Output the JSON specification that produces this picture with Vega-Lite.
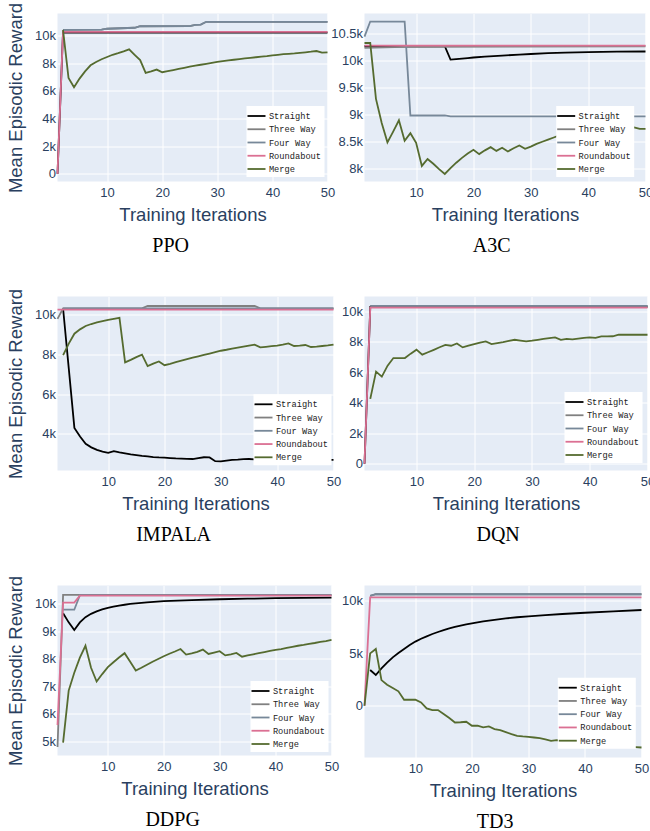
{
  "$schema": "https://vega.github.io/schema/vega-lite/v6.json",
  "padding": {"left": 6.5, "top": 1.5, "right": 0, "bottom": 0},
  "autosize": {"type": "pad"},
  "background": "white",
  "config": {
    "view": {"fill": "#E5ECF6", "stroke": null},
    "axis": {"domain": false, "ticks": false, "grid": true, "gridColor": "#ffffff", "gridWidth": 1, "labelFont": "Liberation Sans", "labelFontSize": 13, "labelColor": "#2a3f5f", "titleFont": "Liberation Sans", "titleFontSize": 18.5, "titleFontWeight": "normal", "titleColor": "#2a3f5f"},
    "axisX": {"labelPadding": 4.5, "titlePadding": 6, "labelFlush": false},
    "axisY": {"labelPadding": 2, "titlePadding": 9, "labelExpr": "datum.value == 0 ? '0' : datum.label"},
    "legend": {"orient": "none", "symbolType": "M-1.5,0H1.5", "symbolSize": 144, "symbolStrokeWidth": 2, "labelFont": "Liberation Mono", "labelFontSize": 8.7, "labelColor": "#222222", "fillColor": "#ffffff", "padding": 3, "rowPadding": 1.25, "labelOffset": 5.4},
    "title": {"font": "Liberation Serif", "fontSize": 20, "fontWeight": "normal", "color": "#000000", "orient": "bottom", "frame": "bounds", "anchor": "middle", "offset": 12.5},
    "line": {"strokeWidth": 1.8, "clip": true}
  },
  "datasets": {
    "ppo": [
      {"s": "Straight", "x": 1, "y": 0}, {"s": "Straight", "x": 2, "y": 10200}, {"s": "Straight", "x": 50, "y": 10200},
      {"s": "Three Way", "x": 2, "y": 10400}, {"s": "Three Way", "x": 9, "y": 10420}, {"s": "Three Way", "x": 10, "y": 10480}, {"s": "Three Way", "x": 15, "y": 10550}, {"s": "Three Way", "x": 16, "y": 10660}, {"s": "Three Way", "x": 25, "y": 10670}, {"s": "Three Way", "x": 26, "y": 10760}, {"s": "Three Way", "x": 27, "y": 10780}, {"s": "Three Way", "x": 28, "y": 10980}, {"s": "Three Way", "x": 50, "y": 10980},
      {"s": "Four Way", "x": 2, "y": 10400}, {"s": "Four Way", "x": 9, "y": 10420}, {"s": "Four Way", "x": 10, "y": 10480}, {"s": "Four Way", "x": 15, "y": 10550}, {"s": "Four Way", "x": 16, "y": 10660}, {"s": "Four Way", "x": 25, "y": 10670}, {"s": "Four Way", "x": 26, "y": 10760}, {"s": "Four Way", "x": 27, "y": 10780}, {"s": "Four Way", "x": 28, "y": 10980}, {"s": "Four Way", "x": 50, "y": 10980},
      {"s": "Roundabout", "x": 1, "y": 0}, {"s": "Roundabout", "x": 2, "y": 10250}, {"s": "Roundabout", "x": 50, "y": 10250},
      {"s": "Merge", "x": 2, "y": 10400}, {"s": "Merge", "x": 3, "y": 6930}, {"s": "Merge", "x": 4, "y": 6250}, {"s": "Merge", "x": 5, "y": 6880}, {"s": "Merge", "x": 6, "y": 7400}, {"s": "Merge", "x": 7, "y": 7840}, {"s": "Merge", "x": 8, "y": 8080}, {"s": "Merge", "x": 9, "y": 8280}, {"s": "Merge", "x": 10, "y": 8440}, {"s": "Merge", "x": 11, "y": 8600}, {"s": "Merge", "x": 12, "y": 8720}, {"s": "Merge", "x": 13, "y": 8850}, {"s": "Merge", "x": 14, "y": 8990}, {"s": "Merge", "x": 15, "y": 8600}, {"s": "Merge", "x": 16, "y": 8220}, {"s": "Merge", "x": 17, "y": 7290}, {"s": "Merge", "x": 18, "y": 7400}, {"s": "Merge", "x": 19, "y": 7530}, {"s": "Merge", "x": 20, "y": 7340}, {"s": "Merge", "x": 21, "y": 7420}, {"s": "Merge", "x": 22, "y": 7500}, {"s": "Merge", "x": 23, "y": 7580}, {"s": "Merge", "x": 24, "y": 7660}, {"s": "Merge", "x": 25, "y": 7740}, {"s": "Merge", "x": 26, "y": 7810}, {"s": "Merge", "x": 27, "y": 7880}, {"s": "Merge", "x": 28, "y": 7950}, {"s": "Merge", "x": 29, "y": 8020}, {"s": "Merge", "x": 30, "y": 8080}, {"s": "Merge", "x": 31, "y": 8140}, {"s": "Merge", "x": 32, "y": 8190}, {"s": "Merge", "x": 33, "y": 8240}, {"s": "Merge", "x": 34, "y": 8290}, {"s": "Merge", "x": 35, "y": 8340}, {"s": "Merge", "x": 36, "y": 8380}, {"s": "Merge", "x": 37, "y": 8420}, {"s": "Merge", "x": 38, "y": 8460}, {"s": "Merge", "x": 39, "y": 8500}, {"s": "Merge", "x": 40, "y": 8560}, {"s": "Merge", "x": 41, "y": 8600}, {"s": "Merge", "x": 42, "y": 8640}, {"s": "Merge", "x": 43, "y": 8670}, {"s": "Merge", "x": 44, "y": 8700}, {"s": "Merge", "x": 45, "y": 8740}, {"s": "Merge", "x": 46, "y": 8780}, {"s": "Merge", "x": 47, "y": 8820}, {"s": "Merge", "x": 48, "y": 8870}, {"s": "Merge", "x": 49, "y": 8750}, {"s": "Merge", "x": 50, "y": 8780}
    ],
    "a3c": [
      {"s": "Straight", "x": 1, "y": 10270}, {"s": "Straight", "x": 15, "y": 10270}, {"s": "Straight", "x": 16, "y": 10020}, {"s": "Straight", "x": 17, "y": 10030}, {"s": "Straight", "x": 18, "y": 10040}, {"s": "Straight", "x": 19, "y": 10050}, {"s": "Straight", "x": 20, "y": 10060}, {"s": "Straight", "x": 22, "y": 10075}, {"s": "Straight", "x": 25, "y": 10095}, {"s": "Straight", "x": 28, "y": 10115}, {"s": "Straight", "x": 30, "y": 10125}, {"s": "Straight", "x": 33, "y": 10140}, {"s": "Straight", "x": 36, "y": 10150}, {"s": "Straight", "x": 40, "y": 10160}, {"s": "Straight", "x": 45, "y": 10168}, {"s": "Straight", "x": 50, "y": 10172},
      {"s": "Three Way", "x": 1, "y": 10240}, {"s": "Three Way", "x": 8, "y": 10260}, {"s": "Three Way", "x": 50, "y": 10270},
      {"s": "Four Way", "x": 1, "y": 10450}, {"s": "Four Way", "x": 2, "y": 10730}, {"s": "Four Way", "x": 8, "y": 10730}, {"s": "Four Way", "x": 9, "y": 8980}, {"s": "Four Way", "x": 15, "y": 8980}, {"s": "Four Way", "x": 16, "y": 8965}, {"s": "Four Way", "x": 50, "y": 8965},
      {"s": "Roundabout", "x": 1, "y": 10280}, {"s": "Roundabout", "x": 50, "y": 10280},
      {"s": "Merge", "x": 1, "y": 10330}, {"s": "Merge", "x": 2, "y": 10330}, {"s": "Merge", "x": 3, "y": 9290}, {"s": "Merge", "x": 4, "y": 8840}, {"s": "Merge", "x": 5, "y": 8480}, {"s": "Merge", "x": 6, "y": 8680}, {"s": "Merge", "x": 7, "y": 8890}, {"s": "Merge", "x": 8, "y": 8510}, {"s": "Merge", "x": 9, "y": 8650}, {"s": "Merge", "x": 10, "y": 8470}, {"s": "Merge", "x": 11, "y": 8040}, {"s": "Merge", "x": 12, "y": 8170}, {"s": "Merge", "x": 13, "y": 8080}, {"s": "Merge", "x": 14, "y": 7980}, {"s": "Merge", "x": 15, "y": 7890}, {"s": "Merge", "x": 16, "y": 8000}, {"s": "Merge", "x": 17, "y": 8100}, {"s": "Merge", "x": 18, "y": 8190}, {"s": "Merge", "x": 19, "y": 8270}, {"s": "Merge", "x": 20, "y": 8340}, {"s": "Merge", "x": 21, "y": 8260}, {"s": "Merge", "x": 22, "y": 8330}, {"s": "Merge", "x": 23, "y": 8390}, {"s": "Merge", "x": 24, "y": 8320}, {"s": "Merge", "x": 25, "y": 8380}, {"s": "Merge", "x": 26, "y": 8310}, {"s": "Merge", "x": 27, "y": 8370}, {"s": "Merge", "x": 28, "y": 8420}, {"s": "Merge", "x": 29, "y": 8360}, {"s": "Merge", "x": 30, "y": 8400}, {"s": "Merge", "x": 31, "y": 8450}, {"s": "Merge", "x": 32, "y": 8490}, {"s": "Merge", "x": 33, "y": 8530}, {"s": "Merge", "x": 34, "y": 8570}, {"s": "Merge", "x": 35, "y": 8610}, {"s": "Merge", "x": 36, "y": 8640}, {"s": "Merge", "x": 37, "y": 8660}, {"s": "Merge", "x": 38, "y": 8680}, {"s": "Merge", "x": 39, "y": 8690}, {"s": "Merge", "x": 40, "y": 8700}, {"s": "Merge", "x": 41, "y": 8710}, {"s": "Merge", "x": 42, "y": 8720}, {"s": "Merge", "x": 43, "y": 8730}, {"s": "Merge", "x": 44, "y": 8740}, {"s": "Merge", "x": 45, "y": 8745}, {"s": "Merge", "x": 46, "y": 8750}, {"s": "Merge", "x": 47, "y": 8755}, {"s": "Merge", "x": 48, "y": 8760}, {"s": "Merge", "x": 49, "y": 8730}, {"s": "Merge", "x": 50, "y": 8730}
    ],
    "impala": [
      {"s": "Straight", "x": 2, "y": 10300}, {"s": "Straight", "x": 3, "y": 7300}, {"s": "Straight", "x": 4, "y": 4290}, {"s": "Straight", "x": 5, "y": 3860}, {"s": "Straight", "x": 6, "y": 3490}, {"s": "Straight", "x": 7, "y": 3310}, {"s": "Straight", "x": 8, "y": 3180}, {"s": "Straight", "x": 9, "y": 3090}, {"s": "Straight", "x": 10, "y": 3030}, {"s": "Straight", "x": 11, "y": 3120}, {"s": "Straight", "x": 12, "y": 3060}, {"s": "Straight", "x": 13, "y": 3010}, {"s": "Straight", "x": 14, "y": 2960}, {"s": "Straight", "x": 15, "y": 2920}, {"s": "Straight", "x": 16, "y": 2880}, {"s": "Straight", "x": 17, "y": 2850}, {"s": "Straight", "x": 18, "y": 2820}, {"s": "Straight", "x": 19, "y": 2800}, {"s": "Straight", "x": 20, "y": 2790}, {"s": "Straight", "x": 21, "y": 2770}, {"s": "Straight", "x": 22, "y": 2750}, {"s": "Straight", "x": 23, "y": 2740}, {"s": "Straight", "x": 24, "y": 2730}, {"s": "Straight", "x": 25, "y": 2720}, {"s": "Straight", "x": 26, "y": 2770}, {"s": "Straight", "x": 27, "y": 2810}, {"s": "Straight", "x": 28, "y": 2800}, {"s": "Straight", "x": 29, "y": 2610}, {"s": "Straight", "x": 30, "y": 2600}, {"s": "Straight", "x": 31, "y": 2640}, {"s": "Straight", "x": 32, "y": 2680}, {"s": "Straight", "x": 33, "y": 2690}, {"s": "Straight", "x": 34, "y": 2710}, {"s": "Straight", "x": 35, "y": 2720}, {"s": "Straight", "x": 36, "y": 2700}, {"s": "Straight", "x": 40, "y": 2700}, {"s": "Straight", "x": 45, "y": 2690}, {"s": "Straight", "x": 50, "y": 2680},
      {"s": "Three Way", "x": 1, "y": 9800}, {"s": "Three Way", "x": 2, "y": 10330}, {"s": "Three Way", "x": 16, "y": 10330}, {"s": "Three Way", "x": 17, "y": 10450}, {"s": "Three Way", "x": 36, "y": 10450}, {"s": "Three Way", "x": 37, "y": 10330}, {"s": "Three Way", "x": 50, "y": 10330},
      {"s": "Four Way", "x": 2, "y": 10330}, {"s": "Four Way", "x": 50, "y": 10330},
      {"s": "Roundabout", "x": 1, "y": 10270}, {"s": "Roundabout", "x": 50, "y": 10270},
      {"s": "Merge", "x": 2, "y": 7970}, {"s": "Merge", "x": 3, "y": 8550}, {"s": "Merge", "x": 4, "y": 9050}, {"s": "Merge", "x": 5, "y": 9270}, {"s": "Merge", "x": 6, "y": 9440}, {"s": "Merge", "x": 7, "y": 9540}, {"s": "Merge", "x": 8, "y": 9620}, {"s": "Merge", "x": 9, "y": 9690}, {"s": "Merge", "x": 10, "y": 9750}, {"s": "Merge", "x": 11, "y": 9800}, {"s": "Merge", "x": 12, "y": 9850}, {"s": "Merge", "x": 13, "y": 7600}, {"s": "Merge", "x": 14, "y": 7730}, {"s": "Merge", "x": 15, "y": 7870}, {"s": "Merge", "x": 16, "y": 7990}, {"s": "Merge", "x": 17, "y": 7410}, {"s": "Merge", "x": 18, "y": 7540}, {"s": "Merge", "x": 19, "y": 7650}, {"s": "Merge", "x": 20, "y": 7460}, {"s": "Merge", "x": 21, "y": 7530}, {"s": "Merge", "x": 22, "y": 7610}, {"s": "Merge", "x": 23, "y": 7690}, {"s": "Merge", "x": 24, "y": 7770}, {"s": "Merge", "x": 25, "y": 7840}, {"s": "Merge", "x": 26, "y": 7910}, {"s": "Merge", "x": 27, "y": 7980}, {"s": "Merge", "x": 28, "y": 8050}, {"s": "Merge", "x": 29, "y": 8120}, {"s": "Merge", "x": 30, "y": 8190}, {"s": "Merge", "x": 31, "y": 8240}, {"s": "Merge", "x": 32, "y": 8300}, {"s": "Merge", "x": 33, "y": 8350}, {"s": "Merge", "x": 34, "y": 8400}, {"s": "Merge", "x": 35, "y": 8450}, {"s": "Merge", "x": 36, "y": 8500}, {"s": "Merge", "x": 37, "y": 8360}, {"s": "Merge", "x": 38, "y": 8390}, {"s": "Merge", "x": 39, "y": 8420}, {"s": "Merge", "x": 40, "y": 8450}, {"s": "Merge", "x": 41, "y": 8500}, {"s": "Merge", "x": 42, "y": 8560}, {"s": "Merge", "x": 43, "y": 8430}, {"s": "Merge", "x": 44, "y": 8450}, {"s": "Merge", "x": 45, "y": 8480}, {"s": "Merge", "x": 46, "y": 8380}, {"s": "Merge", "x": 47, "y": 8400}, {"s": "Merge", "x": 48, "y": 8430}, {"s": "Merge", "x": 49, "y": 8460}, {"s": "Merge", "x": 50, "y": 8500}
    ],
    "dqn": [
      {"s": "Straight", "x": 1, "y": 0}, {"s": "Straight", "x": 2, "y": 10300}, {"s": "Straight", "x": 50, "y": 10300},
      {"s": "Three Way", "x": 2, "y": 10370}, {"s": "Three Way", "x": 50, "y": 10370},
      {"s": "Four Way", "x": 2, "y": 10370}, {"s": "Four Way", "x": 50, "y": 10370},
      {"s": "Roundabout", "x": 1, "y": 0}, {"s": "Roundabout", "x": 2, "y": 10250}, {"s": "Roundabout", "x": 50, "y": 10250},
      {"s": "Merge", "x": 2, "y": 4260}, {"s": "Merge", "x": 3, "y": 6050}, {"s": "Merge", "x": 4, "y": 5720}, {"s": "Merge", "x": 5, "y": 6440}, {"s": "Merge", "x": 6, "y": 6940}, {"s": "Merge", "x": 7, "y": 6940}, {"s": "Merge", "x": 8, "y": 6940}, {"s": "Merge", "x": 9, "y": 7230}, {"s": "Merge", "x": 10, "y": 7490}, {"s": "Merge", "x": 11, "y": 7160}, {"s": "Merge", "x": 12, "y": 7320}, {"s": "Merge", "x": 13, "y": 7480}, {"s": "Merge", "x": 14, "y": 7650}, {"s": "Merge", "x": 15, "y": 7800}, {"s": "Merge", "x": 16, "y": 7750}, {"s": "Merge", "x": 17, "y": 7900}, {"s": "Merge", "x": 18, "y": 7640}, {"s": "Merge", "x": 19, "y": 7750}, {"s": "Merge", "x": 20, "y": 7850}, {"s": "Merge", "x": 21, "y": 7950}, {"s": "Merge", "x": 22, "y": 8030}, {"s": "Merge", "x": 23, "y": 7860}, {"s": "Merge", "x": 24, "y": 7920}, {"s": "Merge", "x": 25, "y": 7980}, {"s": "Merge", "x": 26, "y": 8060}, {"s": "Merge", "x": 27, "y": 8140}, {"s": "Merge", "x": 28, "y": 8090}, {"s": "Merge", "x": 29, "y": 8030}, {"s": "Merge", "x": 30, "y": 8080}, {"s": "Merge", "x": 31, "y": 8140}, {"s": "Merge", "x": 32, "y": 8200}, {"s": "Merge", "x": 33, "y": 8250}, {"s": "Merge", "x": 34, "y": 8300}, {"s": "Merge", "x": 35, "y": 8140}, {"s": "Merge", "x": 36, "y": 8200}, {"s": "Merge", "x": 37, "y": 8170}, {"s": "Merge", "x": 38, "y": 8220}, {"s": "Merge", "x": 39, "y": 8270}, {"s": "Merge", "x": 40, "y": 8300}, {"s": "Merge", "x": 41, "y": 8260}, {"s": "Merge", "x": 42, "y": 8360}, {"s": "Merge", "x": 43, "y": 8360}, {"s": "Merge", "x": 44, "y": 8370}, {"s": "Merge", "x": 45, "y": 8470}, {"s": "Merge", "x": 46, "y": 8470}, {"s": "Merge", "x": 47, "y": 8470}, {"s": "Merge", "x": 48, "y": 8470}, {"s": "Merge", "x": 49, "y": 8470}, {"s": "Merge", "x": 50, "y": 8470}
    ],
    "ddpg": [
      {"s": "Straight", "x": 2, "y": 9660}, {"s": "Straight", "x": 3, "y": 9330}, {"s": "Straight", "x": 4, "y": 9050}, {"s": "Straight", "x": 5, "y": 9330}, {"s": "Straight", "x": 6, "y": 9520}, {"s": "Straight", "x": 7, "y": 9640}, {"s": "Straight", "x": 8, "y": 9730}, {"s": "Straight", "x": 9, "y": 9800}, {"s": "Straight", "x": 10, "y": 9860}, {"s": "Straight", "x": 11, "y": 9900}, {"s": "Straight", "x": 12, "y": 9940}, {"s": "Straight", "x": 13, "y": 9970}, {"s": "Straight", "x": 14, "y": 10000}, {"s": "Straight", "x": 15, "y": 10020}, {"s": "Straight", "x": 17, "y": 10060}, {"s": "Straight", "x": 20, "y": 10100}, {"s": "Straight", "x": 25, "y": 10140}, {"s": "Straight", "x": 30, "y": 10170}, {"s": "Straight", "x": 35, "y": 10190}, {"s": "Straight", "x": 40, "y": 10210}, {"s": "Straight", "x": 45, "y": 10220}, {"s": "Straight", "x": 50, "y": 10230},
      {"s": "Three Way", "x": 1, "y": 4800}, {"s": "Three Way", "x": 2, "y": 10330}, {"s": "Three Way", "x": 50, "y": 10330},
      {"s": "Four Way", "x": 2, "y": 9790}, {"s": "Four Way", "x": 4, "y": 9790}, {"s": "Four Way", "x": 5, "y": 10320}, {"s": "Four Way", "x": 50, "y": 10320},
      {"s": "Roundabout", "x": 1, "y": 5600}, {"s": "Roundabout", "x": 2, "y": 10050}, {"s": "Roundabout", "x": 4, "y": 10050}, {"s": "Roundabout", "x": 5, "y": 10300}, {"s": "Roundabout", "x": 50, "y": 10300},
      {"s": "Merge", "x": 2, "y": 4960}, {"s": "Merge", "x": 3, "y": 6850}, {"s": "Merge", "x": 4, "y": 7500}, {"s": "Merge", "x": 5, "y": 8050}, {"s": "Merge", "x": 6, "y": 8480}, {"s": "Merge", "x": 7, "y": 7680}, {"s": "Merge", "x": 8, "y": 7180}, {"s": "Merge", "x": 9, "y": 7450}, {"s": "Merge", "x": 10, "y": 7700}, {"s": "Merge", "x": 11, "y": 7880}, {"s": "Merge", "x": 12, "y": 8050}, {"s": "Merge", "x": 13, "y": 8210}, {"s": "Merge", "x": 14, "y": 7900}, {"s": "Merge", "x": 15, "y": 7580}, {"s": "Merge", "x": 16, "y": 7680}, {"s": "Merge", "x": 17, "y": 7790}, {"s": "Merge", "x": 18, "y": 7900}, {"s": "Merge", "x": 19, "y": 8000}, {"s": "Merge", "x": 20, "y": 8100}, {"s": "Merge", "x": 21, "y": 8190}, {"s": "Merge", "x": 22, "y": 8270}, {"s": "Merge", "x": 23, "y": 8360}, {"s": "Merge", "x": 24, "y": 8160}, {"s": "Merge", "x": 25, "y": 8200}, {"s": "Merge", "x": 26, "y": 8260}, {"s": "Merge", "x": 27, "y": 8340}, {"s": "Merge", "x": 28, "y": 8180}, {"s": "Merge", "x": 29, "y": 8230}, {"s": "Merge", "x": 30, "y": 8280}, {"s": "Merge", "x": 31, "y": 8130}, {"s": "Merge", "x": 32, "y": 8170}, {"s": "Merge", "x": 33, "y": 8220}, {"s": "Merge", "x": 34, "y": 8080}, {"s": "Merge", "x": 35, "y": 8130}, {"s": "Merge", "x": 36, "y": 8170}, {"s": "Merge", "x": 37, "y": 8210}, {"s": "Merge", "x": 38, "y": 8250}, {"s": "Merge", "x": 39, "y": 8290}, {"s": "Merge", "x": 40, "y": 8330}, {"s": "Merge", "x": 41, "y": 8360}, {"s": "Merge", "x": 42, "y": 8400}, {"s": "Merge", "x": 43, "y": 8440}, {"s": "Merge", "x": 44, "y": 8480}, {"s": "Merge", "x": 45, "y": 8510}, {"s": "Merge", "x": 46, "y": 8550}, {"s": "Merge", "x": 47, "y": 8580}, {"s": "Merge", "x": 48, "y": 8620}, {"s": "Merge", "x": 49, "y": 8650}, {"s": "Merge", "x": 50, "y": 8690}
    ],
    "td3": [
      {"s": "Straight", "x": 2, "y": 3400}, {"s": "Straight", "x": 3, "y": 2920}, {"s": "Straight", "x": 4, "y": 3550}, {"s": "Straight", "x": 5, "y": 4100}, {"s": "Straight", "x": 6, "y": 4600}, {"s": "Straight", "x": 7, "y": 5020}, {"s": "Straight", "x": 8, "y": 5400}, {"s": "Straight", "x": 9, "y": 5780}, {"s": "Straight", "x": 10, "y": 6100}, {"s": "Straight", "x": 11, "y": 6370}, {"s": "Straight", "x": 12, "y": 6600}, {"s": "Straight", "x": 13, "y": 6820}, {"s": "Straight", "x": 14, "y": 7010}, {"s": "Straight", "x": 15, "y": 7190}, {"s": "Straight", "x": 16, "y": 7350}, {"s": "Straight", "x": 17, "y": 7490}, {"s": "Straight", "x": 18, "y": 7620}, {"s": "Straight", "x": 19, "y": 7730}, {"s": "Straight", "x": 20, "y": 7840}, {"s": "Straight", "x": 22, "y": 8020}, {"s": "Straight", "x": 24, "y": 8170}, {"s": "Straight", "x": 26, "y": 8300}, {"s": "Straight", "x": 28, "y": 8410}, {"s": "Straight", "x": 30, "y": 8500}, {"s": "Straight", "x": 33, "y": 8620}, {"s": "Straight", "x": 36, "y": 8720}, {"s": "Straight", "x": 40, "y": 8840}, {"s": "Straight", "x": 45, "y": 8970}, {"s": "Straight", "x": 50, "y": 9100},
      {"s": "Three Way", "x": 2, "y": 10450}, {"s": "Three Way", "x": 3, "y": 10600}, {"s": "Three Way", "x": 50, "y": 10600},
      {"s": "Four Way", "x": 2, "y": 10450}, {"s": "Four Way", "x": 3, "y": 10600}, {"s": "Four Way", "x": 50, "y": 10600},
      {"s": "Roundabout", "x": 1, "y": 0}, {"s": "Roundabout", "x": 2, "y": 10300}, {"s": "Roundabout", "x": 50, "y": 10300},
      {"s": "Merge", "x": 1, "y": 0}, {"s": "Merge", "x": 2, "y": 4980}, {"s": "Merge", "x": 3, "y": 5400}, {"s": "Merge", "x": 4, "y": 2440}, {"s": "Merge", "x": 5, "y": 2000}, {"s": "Merge", "x": 6, "y": 1680}, {"s": "Merge", "x": 7, "y": 1370}, {"s": "Merge", "x": 8, "y": 570}, {"s": "Merge", "x": 9, "y": 570}, {"s": "Merge", "x": 10, "y": 570}, {"s": "Merge", "x": 11, "y": 320}, {"s": "Merge", "x": 12, "y": -250}, {"s": "Merge", "x": 13, "y": -410}, {"s": "Merge", "x": 14, "y": -410}, {"s": "Merge", "x": 15, "y": -790}, {"s": "Merge", "x": 16, "y": -1170}, {"s": "Merge", "x": 17, "y": -1590}, {"s": "Merge", "x": 18, "y": -1570}, {"s": "Merge", "x": 19, "y": -1520}, {"s": "Merge", "x": 20, "y": -1900}, {"s": "Merge", "x": 21, "y": -1900}, {"s": "Merge", "x": 22, "y": -2060}, {"s": "Merge", "x": 23, "y": -1970}, {"s": "Merge", "x": 24, "y": -2220}, {"s": "Merge", "x": 25, "y": -2320}, {"s": "Merge", "x": 26, "y": -2500}, {"s": "Merge", "x": 27, "y": -2700}, {"s": "Merge", "x": 28, "y": -2860}, {"s": "Merge", "x": 29, "y": -2920}, {"s": "Merge", "x": 30, "y": -2950}, {"s": "Merge", "x": 31, "y": -3020}, {"s": "Merge", "x": 32, "y": -3080}, {"s": "Merge", "x": 33, "y": -3200}, {"s": "Merge", "x": 34, "y": -3330}, {"s": "Merge", "x": 35, "y": -3270}, {"s": "Merge", "x": 36, "y": -3330}, {"s": "Merge", "x": 37, "y": -3400}, {"s": "Merge", "x": 38, "y": -3450}, {"s": "Merge", "x": 39, "y": -3500}, {"s": "Merge", "x": 40, "y": -3560}, {"s": "Merge", "x": 41, "y": -3600}, {"s": "Merge", "x": 42, "y": -3650}, {"s": "Merge", "x": 43, "y": -3700}, {"s": "Merge", "x": 44, "y": -3750}, {"s": "Merge", "x": 45, "y": -3790}, {"s": "Merge", "x": 46, "y": -3830}, {"s": "Merge", "x": 47, "y": -3870}, {"s": "Merge", "x": 48, "y": -3910}, {"s": "Merge", "x": 49, "y": -3940}, {"s": "Merge", "x": 50, "y": -3970}
    ]
  },
  "columns": 2,
  "bounds": "flush",
  "spacing": {"row": 115, "column": 31},
  "resolve": {"scale": {"x": "independent", "y": "independent", "color": "independent"}, "legend": {"color": "independent"}},
  "concat": [
    {
      "width": 270, "height": 168,
      "data": {"name": "ppo"},
      "title": {"text": "PPO"},
      "mark": {"type": "line"},
      "encoding": {
        "x": {"field": "x", "type": "quantitative", "scale": {"domain": [1, 50]}, "axis": {"values": [10, 20, 30, 40, 50], "title": "Training Iterations"}},
        "y": {"field": "y", "type": "quantitative", "scale": {"domain": [-550, 11580]}, "axis": {"values": [0, 2000, 4000, 6000, 8000, 10000], "format": "~s", "title": "Mean Episodic Reward"}},
        "color": {"field": "s", "type": "nominal", "scale": {"domain": ["Straight", "Three Way", "Four Way", "Roundabout", "Merge"], "range": ["#000000", "#808080", "#778899", "#db7093", "#556b2f"]}, "legend": {"title": null, "legendX": 189, "legendY": 92.5}}
      }
    },
    {
      "width": 281, "height": 168,
      "data": {"name": "a3c"},
      "title": {"text": "A3C"},
      "mark": {"type": "line"},
      "encoding": {
        "x": {"field": "x", "type": "quantitative", "scale": {"domain": [1, 50]}, "axis": {"values": [10, 20, 30, 40, 50], "title": "Training Iterations"}},
        "y": {"field": "y", "type": "quantitative", "scale": {"domain": [7750, 10880]}, "axis": {"values": [8000, 8500, 9000, 9500, 10000, 10500], "format": "~s", "title": null}},
        "color": {"field": "s", "type": "nominal", "scale": {"domain": ["Straight", "Three Way", "Four Way", "Roundabout", "Merge"], "range": ["#000000", "#808080", "#778899", "#db7093", "#556b2f"]}, "legend": {"title": null, "legendX": 191.7, "legendY": 92.5}}
      }
    },
    {
      "width": 276, "height": 174,
      "data": {"name": "impala"},
      "title": {"text": "IMPALA"},
      "mark": {"type": "line"},
      "encoding": {
        "x": {"field": "x", "type": "quantitative", "scale": {"domain": [1, 50]}, "axis": {"values": [10, 20, 30, 40, 50], "title": "Training Iterations"}},
        "y": {"field": "y", "type": "quantitative", "scale": {"domain": [2140, 10930]}, "axis": {"values": [4000, 6000, 8000, 10000], "format": "~s", "title": "Mean Episodic Reward"}},
        "color": {"field": "s", "type": "nominal", "scale": {"domain": ["Straight", "Three Way", "Four Way", "Roundabout", "Merge"], "range": ["#000000", "#808080", "#778899", "#db7093", "#556b2f"]}, "legend": {"title": null, "legendX": 196, "legendY": 97.8}}
      }
    },
    {
      "width": 283, "height": 174,
      "data": {"name": "dqn"},
      "title": {"text": "DQN"},
      "mark": {"type": "line"},
      "encoding": {
        "x": {"field": "x", "type": "quantitative", "scale": {"domain": [1, 50]}, "axis": {"values": [10, 20, 30, 40, 50], "title": "Training Iterations"}},
        "y": {"field": "y", "type": "quantitative", "scale": {"domain": [-440, 10980]}, "axis": {"values": [0, 2000, 4000, 6000, 8000, 10000], "format": "~s", "title": null}},
        "color": {"field": "s", "type": "nominal", "scale": {"domain": ["Straight", "Three Way", "Four Way", "Roundabout", "Merge"], "range": ["#000000", "#808080", "#778899", "#db7093", "#556b2f"]}, "legend": {"title": null, "legendX": 200, "legendY": 95.5}}
      }
    },
    {
      "width": 274, "height": 170,
      "data": {"name": "ddpg"},
      "title": {"text": "DDPG"},
      "mark": {"type": "line"},
      "encoding": {
        "x": {"field": "x", "type": "quantitative", "scale": {"domain": [1, 50]}, "axis": {"values": [10, 20, 30, 40, 50], "title": "Training Iterations"}},
        "y": {"field": "y", "type": "quantitative", "scale": {"domain": [4490, 10670]}, "axis": {"values": [5000, 6000, 7000, 8000, 9000, 10000], "format": "~s", "title": "Mean Episodic Reward"}},
        "color": {"field": "s", "type": "nominal", "scale": {"domain": ["Straight", "Three Way", "Four Way", "Roundabout", "Merge"], "range": ["#000000", "#808080", "#778899", "#db7093", "#556b2f"]}, "legend": {"title": null, "legendX": 193, "legendY": 95.5}}
      }
    },
    {
      "width": 277, "height": 172,
      "data": {"name": "td3"},
      "title": {"text": "TD3"},
      "mark": {"type": "line"},
      "encoding": {
        "x": {"field": "x", "type": "quantitative", "scale": {"domain": [1, 50]}, "axis": {"values": [10, 20, 30, 40, 50], "title": "Training Iterations"}},
        "y": {"field": "y", "type": "quantitative", "scale": {"domain": [-4920, 11430]}, "axis": {"values": [0, 5000, 10000], "format": "~s", "title": null}},
        "color": {"field": "s", "type": "nominal", "scale": {"domain": ["Straight", "Three Way", "Four Way", "Roundabout", "Merge"], "range": ["#000000", "#808080", "#778899", "#db7093", "#556b2f"]}, "legend": {"title": null, "legendX": 193.3, "legendY": 92.2}}
      }
    }
  ]
}
